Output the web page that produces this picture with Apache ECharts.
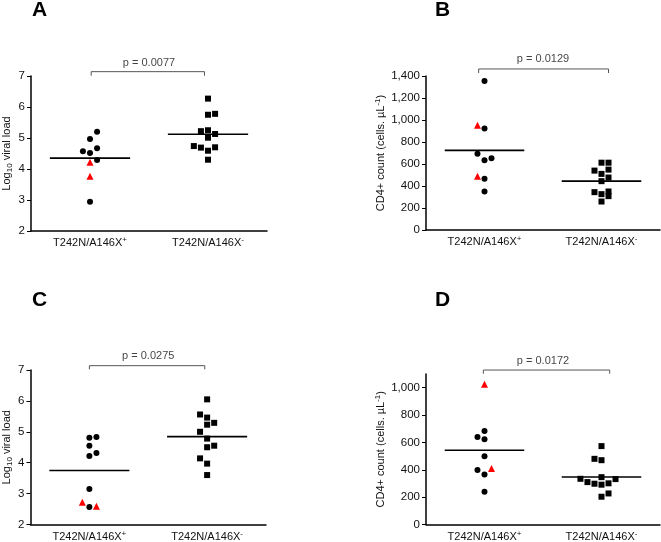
<!DOCTYPE html>
<html><head><meta charset="utf-8">
<script src="https://cdn.jsdelivr.net/npm/echarts@6/dist/echarts.min.js"></script>
<style>html,body{margin:0;padding:0;background:#fff}#c{width:661px;height:542px}</style>
</head><body><div id="c"></div>
<script>
// ---------- DATA ----------
const categories = ['T242N/A146X+', 'T242N/A146X-'];

// Panel A: Log10 viral load
const aPlusCircles = [5.20, 4.97, 4.67, 4.57, 4.52, 4.29, 2.94];
const aPlusCircleSlots = [1, 0, 1, -1, 0, 1, 0];
const aPlusTriangles = [4.22, 3.77];
const aPlusTriangleSlots = [0, 0];
const aMinusSquares = [6.27, 5.75, 5.78, 5.22, 5.25, 5.13, 5.01, 4.74, 4.69, 4.59, 4.70, 4.30];
const aMinusSquareSlots = [0, 0, 1, -1, 0, 1, 0, -2, -1, 0, 1, 0];
const aYTicks = [2, 3, 4, 5, 6, 7];
const aPText = 'p = 0.0077';

// Panel B: CD4+ count
const bPlusCircles = [1355, 923, 694, 634, 652, 465, 350];
const bPlusCircleSlots = [0, 0, -1, 0, 1, 0, 0];
const bPlusTriangles = [953, 489];
const bPlusTriangleSlots = [-1, -1];
const bMinusSquares = [612, 612, 540, 549, 510, 477, 444, 344, 326, 350, 308, 259];
const bMinusSquareSlots = [0, 1, -1, 1, 0, 1, 0, -1, 0, 1, 1, 0];
const bYTicks = [0, 200, 400, 600, 800, 1000, 1200, 1400];
const bPText = 'p = 0.0129';

// Panel C: Log10 viral load
const cPlusCircles = [4.81, 4.83, 4.55, 4.31, 4.22, 3.15, 2.57];
const cPlusCircleSlots = [0, 1, 0, 1, 0, 0, 0];
const cPlusTriangles = [2.72, 2.59];
const cPlusTriangleSlots = [-1, 1];
const cMinusSquares = [6.05, 5.56, 5.46, 5.23, 5.29, 5.00, 4.78, 4.50, 4.55, 4.14, 3.97, 3.60];
const cMinusSquareSlots = [0, -1, 0, 0, 1, -1, 0, 0, 1, -1, 0, 0];
const cYTicks = [2, 3, 4, 5, 6, 7];
const cPText = 'p = 0.0275';

// Panel D: CD4+ count
const dPlusCircles = [683, 640, 623, 499, 399, 365, 239];
const dPlusCircleSlots = [0, -1, 0, 0, -1, 0, 0];
const dPlusTriangles = [1025, 410];
const dPlusTriangleSlots = [0, 1];
const dMinusSquares = [573, 480, 470, 334, 310, 298, 346, 291, 301, 332, 203, 227];
const dMinusSquareSlots = [0, -1, 0, -3, -2, -1, 0, 0, 1, 2, 0, 1];
const dYTicks = [0, 200, 400, 600, 800, 1000];
const dPText = 'p = 0.0172';

// ---------- LAYOUT / STYLE ----------
const FONT = 'Liberation Sans, Arial, sans-serif';
const SLOT = 0.06;
const HALF_MEAN = 0.34;
const panels = [
  {letter: 'A', circles: aPlusCircles, cSlots: aPlusCircleSlots, tris: aPlusTriangles, tSlots: aPlusTriangleSlots,
   squares: aMinusSquares, sSlots: aMinusSquareSlots, ticks: aYTicks, p: aPText, log: true,
   grid: {left: 31, top: 76, width: 236, height: 155}, yMin: 2, yMax: 7, nameGap: 17,
   bracket: {x1: 1.01, x2: 1.97, yTop: 7.14, yBot: 7.01, yText: 7.43}, letterPos: [32, 0]},
  {letter: 'B', circles: bPlusCircles, cSlots: bPlusCircleSlots, tris: bPlusTriangles, tSlots: bPlusTriangleSlots,
   squares: bMinusSquares, sSlots: bMinusSquareSlots, ticks: bYTicks, p: bPText, log: false,
   grid: {left: 426, top: 76, width: 234, height: 154}, yMin: 0, yMax: 1400, nameGap: 38,
   bracket: {x1: 0.95, x2: 2.06, yTop: 1464, yBot: 1427, yText: 1555}, letterPos: [435, 0]},
  {letter: 'C', circles: cPlusCircles, cSlots: cPlusCircleSlots, tris: cPlusTriangles, tSlots: cPlusTriangleSlots,
   squares: cMinusSquares, sSlots: cMinusSquareSlots, ticks: cYTicks, p: cPText, log: true,
   grid: {left: 29, top: 370, width: 237, height: 156}, yMin: 2, yMax: 7, nameGap: 17,
   bracket: {x1: 1.0, x2: 1.98, yTop: 7.14, yBot: 7.02, yText: 7.45}, letterPos: [32, 290]},
  {letter: 'D', circles: dPlusCircles, cSlots: dPlusCircleSlots, tris: dPlusTriangles, tSlots: dPlusTriangleSlots,
   squares: dMinusSquares, sSlots: dMinusSquareSlots, ticks: dYTicks, p: dPText, log: false,
   grid: {left: 426, top: 374, width: 234, height: 154}, yMin: 0, yMax: 1100, nameGap: 38,
   bracket: {x1: 0.99, x2: 2.07, yTop: 1129, yBot: 1102, yText: 1193}, letterPos: [435, 290]}
];

const mean = arr => arr.reduce((s, v) => s + v, 0) / arr.length;
const pts = (vals, slots, center) => vals.map((v, i) => [center + slots[i] * SLOT, v]);
const fmtNum = v => String(v).replace(/\B(?=(\d{3})+(?!\d))/g, ',');

const option = {
  backgroundColor: '#fff',
  animation: false,
  title: [], grid: [], xAxis: [], yAxis: [], series: []
};

panels.forEach((p, i) => {
  option.title.push({text: p.letter, left: p.letterPos[0], top: p.letterPos[1], padding: 0,
    textStyle: {fontFamily: FONT, fontWeight: 'bold', fontSize: 21, color: '#000'}});
  option.grid.push(Object.assign({containLabel: false}, p.grid));
  option.xAxis.push({
    type: 'category', gridIndex: i, data: categories, boundaryGap: true,
    axisLine: {lineStyle: {color: '#000', width: 1.5}},
    axisTick: {alignWithLabel: true, interval: 0, length: 4, lineStyle: {color: '#000', width: 1}},
    axisLabel: {interval: 0, hideOverlap: false, margin: 5, fontFamily: FONT, fontSize: 11, color: '#111',
      formatter: v => v.slice(0, -1) + '{sup|' + v.slice(-1) + '}',
      rich: {sup: {fontSize: 8, verticalAlign: 'top', fontFamily: FONT, color: '#111', padding: [0, 0, 6, 0]}}}
  });
  option.xAxis.push({type: 'value', gridIndex: i, min: 0.5, max: 2.5, show: false});
  option.yAxis.push({
    type: 'value', gridIndex: i, min: p.yMin, max: p.yMax,
    name: p.log ? 'Log{sub|10} viral load' : 'CD4+ count (cells. µL{sup|-1})',
    nameLocation: 'middle', nameGap: p.nameGap,
    nameTextStyle: {fontFamily: FONT, fontSize: 11, color: '#111',
      rich: {sub: {fontSize: 8, fontFamily: FONT, color: '#111', padding: [6, 0, 0, 0]},
             sup: {fontSize: 8, fontFamily: FONT, color: '#111', padding: [0, 0, 6, 0]}}},
    splitLine: {show: false},
    axisLine: {show: true, lineStyle: {color: '#000', width: 1.5}},
    axisTick: {show: true, length: 4, customValues: p.ticks, lineStyle: {color: '#000', width: 1}},
    axisLabel: {customValues: p.ticks, margin: 6, fontFamily: FONT, fontSize: 11.5, color: '#111',
      formatter: v => fmtNum(v)}
  });
  const xi = 2 * i + 1;
  const plusAll = p.circles.concat(p.tris);
  const mPlus = mean(plusAll), mMinus = mean(p.squares);
  option.series.push(
    {type: 'line', xAxisIndex: xi, yAxisIndex: i, data: [[1 - HALF_MEAN, mPlus], [1 + HALF_MEAN, mPlus]],
     symbol: 'none', lineStyle: {color: '#000', width: 1.6}, z: 3},
    {type: 'line', xAxisIndex: xi, yAxisIndex: i, data: [[2 - HALF_MEAN, mMinus], [2 + HALF_MEAN, mMinus]],
     symbol: 'none', lineStyle: {color: '#000', width: 1.6}, z: 3},
    {type: 'scatter', xAxisIndex: xi, yAxisIndex: i, data: pts(p.circles, p.cSlots, 1),
     symbol: 'circle', symbolSize: 6, itemStyle: {color: '#000', opacity: 1}, z: 2},
    {type: 'scatter', xAxisIndex: xi, yAxisIndex: i, data: pts(p.tris, p.tSlots, 1),
     symbol: 'triangle', symbolSize: 7, itemStyle: {color: '#f00', opacity: 1}, z: 2},
    {type: 'scatter', xAxisIndex: xi, yAxisIndex: i, data: pts(p.squares, p.sSlots, 2),
     symbol: 'rect', symbolSize: 6, itemStyle: {color: '#000', opacity: 1}, z: 2},
    {type: 'line', xAxisIndex: xi, yAxisIndex: i, clip: false, symbol: 'none',
     data: [[p.bracket.x1, p.bracket.yBot], [p.bracket.x1, p.bracket.yTop], [p.bracket.x2, p.bracket.yTop], [p.bracket.x2, p.bracket.yBot]],
     lineStyle: {color: '#555', width: 1}},
    {type: 'scatter', xAxisIndex: xi, yAxisIndex: i, clip: false, symbolSize: 0,
     data: [[1.5, p.bracket.yText]],
     label: {show: true, position: 'inside', formatter: p.p, fontFamily: FONT, fontSize: 11, color: '#111'}}
  );
});

const chart = echarts.init(document.getElementById('c'), null, {renderer: 'canvas'});
chart.setOption(option);
</script>
</body></html>
